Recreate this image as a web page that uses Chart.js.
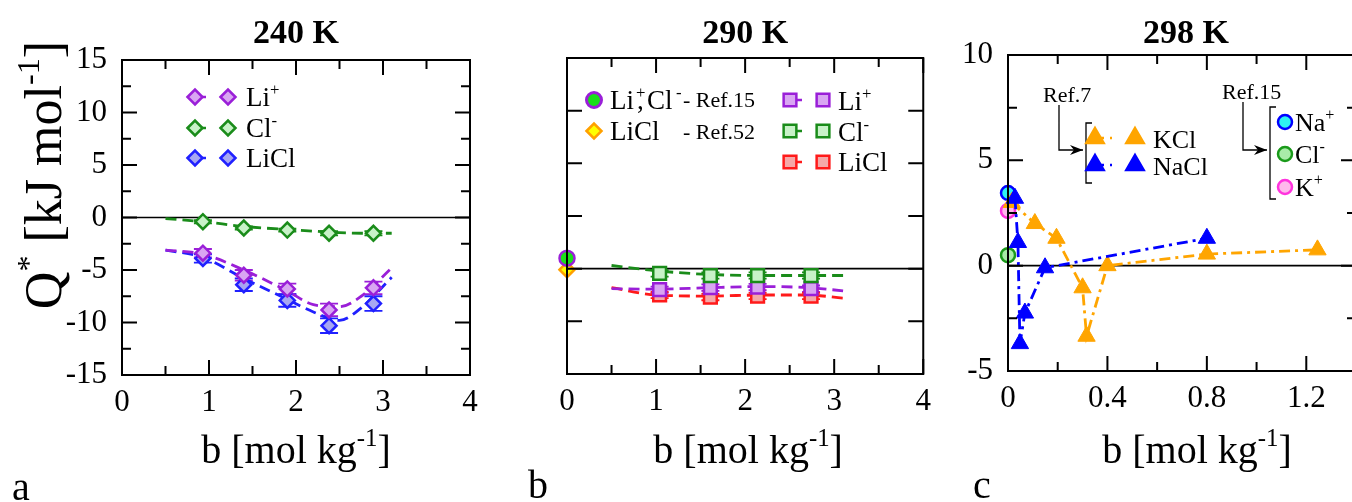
<!DOCTYPE html>
<html>
<head>
<meta charset="utf-8">
<script src="https://cdn.jsdelivr.net/npm/chart.js@4.4.1/dist/chart.umd.min.js"></script>
<style>
    body { margin: 0; background: #fff; overflow: hidden; width: 1352px; height: 502px; position: relative; }
    canvas { position: absolute; top: 0; }
    .fontwarm { position: absolute; left: -2000px; top: 0; font-family: "Liberation Serif"; font-size: 20px; }
</style>
</head>
<body>
<span class="fontwarm">Li Cl 240 K <b>298 K</b></span>
<canvas id="chartA" width="500" height="502" style="left:0"></canvas>
<canvas id="chartB" width="430" height="502" style="left:510px"></canvas>
<canvas id="chartC" width="440" height="502" style="left:940px"></canvas>
<script>
// ---- panel a : 240 K ----
const bA = [0.93, 1.40, 1.90, 2.38, 2.89];
const liA = [-3.4, -5.5, -6.8, -8.8, -6.7];
const liErrA = [0.4, 0.5, 0.5, 0.6, 0.6];
const clA = [-0.4, -1.0, -1.2, -1.5, -1.5];
const clErrA = [0.15, 0.15, 0.15, 0.2, 0.2];
const liclA = [-3.9, -6.4, -7.9, -10.3, -8.2];
const liclErrA = [0.4, 0.6, 0.6, 0.7, 0.7];
const fitXA = [0.5, 0.93, 1.4, 1.9, 2.2, 2.5, 2.75, 3.1];
const liFitA = [-3.1, -3.5, -5.0, -7.0, -8.3, -8.5, -7.5, -4.8];
const clFitA = [-0.1, -0.4, -0.85, -1.15, -1.3, -1.45, -1.5, -1.5];
const liclFitA = [-3.1, -3.8, -5.8, -7.8, -9.0, -9.8, -8.6, -5.7];

// ---- panel b : 290 K ----
const bB = [1.04, 1.61, 2.14, 2.74];
const liB = [-2.0, -1.8, -1.75, -1.9];
const clB = [-0.45, -0.65, -0.65, -0.65];
const liclB = [-2.5, -2.7, -2.6, -2.6];
const errB = [0.3, 0.3, 0.3, 0.3];
const fitXB = [0.5, 1.0, 1.6, 2.2, 2.7, 3.1];
const liFitB = [-1.9, -1.95, -1.8, -1.7, -1.8, -2.1];
const clFitB = [0.3, -0.2, -0.55, -0.65, -0.65, -0.65];
const liclFitB = [-1.8, -2.5, -2.6, -2.5, -2.5, -2.8];
const refX0 = [0];
const ref15B = [1.0];
const ref52B = [-0.1];

// ---- panel c : 298 K ----
const kclX = [0.015, 0.108, 0.195, 0.30, 0.316, 0.40, 0.80, 1.245];
const kclQ = [3.0, 2.0, 1.3, -1.05, -3.35, 0.0, 0.55, 0.75];
const naclX = [0.028, 0.04, 0.048, 0.068, 0.149, 0.80];
const naclQ = [3.2, 1.1, -3.7, -2.25, -0.1, 1.3];
const naIon = [3.45];
const clIon = [0.5];
const kIon = [2.6];

// ---- ticks ----
const xTicksAB = [0, 1, 2, 3, 4];
const xMinorAB = [0.5, 1.5, 2.5, 3.5];
const yTicksA = [-15, -10, -5, 0, 5, 10, 15];
const yMinorA = [-12.5, -7.5, -2.5, 2.5, 7.5, 12.5];
const yTicksB = [-10, -5, 0, 5, 10, 15, 20];
const xTicksC = [0, 0.4, 0.8, 1.2];
const xLabelsC = ["0", "0.4", "0.8", "1.2"];
const xMinorC = [0.2, 0.6, 1.0];
const yTicksC = [-5, 0, 5, 10];
const yMinorC = [-2.5, 2.5, 7.5];

const SERIF = '"Liberation Serif", "Times New Roman", Times, serif';

const C = {
    li: ["#9a1fd8", "#d9a6f2"],
    cl: ["#1a8c1a", "#c8f2c8"],
    liclA: ["#2020ff", "#a7a7f2"],
    liclB: ["#ff1a1a", "#f5a8a8"],
    kcl: "#ffa500",
    nacl: "#0000ff"
};

function pts(xs, ys) {
    return xs.map((x, i) => ({ x: x, y: ys[i] }));
}

function markers(label, xs, ys, style, r, colors, errors) {
    return {
        label: label,
        data: pts(xs, ys),
        showLine: false,
        pointStyle: style,
        pointRadius: r,
        pointBorderWidth: 2.5,
        borderColor: colors[0],
        backgroundColor: colors[1],
        errors: errors,
        clip: false
    };
}

function fitLine(label, xs, ys, color, dash) {
    return {
        label: label,
        data: pts(xs, ys),
        showLine: true,
        pointRadius: 0,
        borderColor: color,
        borderWidth: 2.8,
        borderDash: dash,
        cubicInterpolationMode: "monotone",
        fill: false
    };
}

// text with ^{...} superscripts
function splitSup(str) {
    const out = [];
    const re = /\^\{([^}]*)\}/g;
    let last = 0, m;
    while ((m = re.exec(str))) {
        if (m.index > last) out.push({ t: str.slice(last, m.index) });
        out.push({ t: m[1], sup: true });
        last = re.lastIndex;
    }
    if (last < str.length) out.push({ t: str.slice(last) });
    return out;
}

function rich(ctx, str, x, y, size, align, bold) {
    const parts = splitSup(str);
    const font = s => (bold ? "bold " : "") + s + "px " + SERIF;
    let w = 0;
    parts.forEach(p => {
        ctx.font = font(p.sup ? size * 0.62 : size);
        w += ctx.measureText(p.t).width;
    });
    let cx = align === "center" ? x - w / 2 : (align === "right" ? x - w : x);
    ctx.textAlign = "left";
    ctx.textBaseline = "alphabetic";
    ctx.fillStyle = "#000";
    parts.forEach(p => {
        ctx.font = font(p.sup ? size * 0.62 : size);
        ctx.fillText(p.t, cx, p.sup ? y - size * 0.42 : y);
        cx += ctx.measureText(p.t).width;
    });
}

function marker(ctx, shape, x, y, r, fill, stroke, lw) {
    ctx.beginPath();
    if (shape === "rectRot") {
        ctx.moveTo(x - r, y); ctx.lineTo(x, y - r); ctx.lineTo(x + r, y); ctx.lineTo(x, y + r); ctx.closePath();
    } else if (shape === "rect") {
        const s = Math.SQRT1_2 * r;
        ctx.rect(x - s, y - s, 2 * s, 2 * s);
    } else if (shape === "triangle") {
        for (let k = 0; k < 3; k++) {
            const a = k * 2 * Math.PI / 3;
            const px = x + Math.sin(a) * r, py = y - Math.cos(a) * r;
            if (k === 0) ctx.moveTo(px, py); else ctx.lineTo(px, py);
        }
        ctx.closePath();
    } else {
        ctx.arc(x, y, r, 0, Math.PI * 2);
    }
    ctx.fillStyle = fill;
    ctx.fill();
    ctx.lineWidth = lw;
    ctx.strokeStyle = stroke;
    ctx.stroke();
}

function legendRow(ctx, shape, r, colors, x1, x2, y, dash) {
    ctx.save();
    ctx.strokeStyle = colors[0];
    ctx.lineWidth = 2.5;
    ctx.setLineDash(dash);
    ctx.beginPath();
    ctx.moveTo(x1, y);
    ctx.lineTo(x2, y);
    ctx.stroke();
    ctx.restore();
    marker(ctx, shape, x1, y, r, colors[1], colors[0], 2.5);
    marker(ctx, shape, x2, y, r, colors[1], colors[0], 2.5);
}

// error bars and zero line under the marks
const errorBarPlugin = {
    id: "errorBars",
    beforeDatasetsDraw(chart) {
        const ctx = chart.ctx;
        const ys = chart.scales.y;
        const area = chart.chartArea;
        ctx.save();
        ctx.strokeStyle = "#000";
        ctx.lineWidth = 1.6;
        ctx.beginPath();
        ctx.moveTo(area.left, ys.getPixelForValue(0));
        ctx.lineTo(area.right, ys.getPixelForValue(0));
        ctx.stroke();
        chart.data.datasets.forEach((ds, i) => {
            if (!ds.errors) return;
            const meta = chart.getDatasetMeta(i);
            ctx.strokeStyle = ds.borderColor;
            ctx.lineWidth = 1.8;
            meta.data.forEach((pt, j) => {
                const v = ds.data[j].y, e = ds.errors[j];
                const y1 = ys.getPixelForValue(v + e), y2 = ys.getPixelForValue(v - e);
                ctx.beginPath();
                ctx.moveTo(pt.x, y1); ctx.lineTo(pt.x, y2);
                ctx.moveTo(pt.x - 9, y1); ctx.lineTo(pt.x + 9, y1);
                ctx.moveTo(pt.x - 9, y2); ctx.lineTo(pt.x + 9, y2);
                ctx.stroke();
            });
        });
        ctx.restore();
    }
};

// box with inward ticks on all four sides
function framePlugin(xMajor, xMinor, yMajor, yMinor) {
    return {
        id: "frame",
        afterDraw(chart) {
            const ctx = chart.ctx;
            const a = chart.chartArea;
            const xs = chart.scales.x, ys = chart.scales.y;
            ctx.save();
            ctx.strokeStyle = "#000";
            ctx.lineWidth = 2;
            ctx.beginPath();
            const tick = (vals, len, isX) => {
                vals.forEach(v => {
                    if (isX) {
                        const p = xs.getPixelForValue(v);
                        ctx.moveTo(p, a.bottom); ctx.lineTo(p, a.bottom - len);
                        ctx.moveTo(p, a.top); ctx.lineTo(p, a.top + len);
                    } else {
                        const p = ys.getPixelForValue(v);
                        ctx.moveTo(a.left, p); ctx.lineTo(a.left + len, p);
                        ctx.moveTo(a.right, p); ctx.lineTo(a.right - len, p);
                    }
                });
            };
            tick(xMajor, 15, true);
            tick(xMinor, 9, true);
            tick(yMajor, 15, false);
            tick(yMinor, 9, false);
            ctx.stroke();
            ctx.strokeRect(a.left, a.top, a.right - a.left, a.bottom - a.top);
            ctx.restore();
        }
    };
}

function decoPlugin(draw) {
    return {
        id: "deco",
        afterDraw(chart) {
            const ctx = chart.ctx;
            ctx.save();
            draw(ctx, chart);
            ctx.restore();
        }
    };
}

function axes(xMin, xMax, xTicks, xLabels, yMin, yMax, yTicks, yWidth, xHeight, showY) {
    const tickFont = { family: SERIF, size: 31 };
    return {
        x: {
            type: "linear", min: xMin, max: xMax,
            grid: { display: false, drawTicks: false }, border: { display: false },
            ticks: {
                font: tickFont, color: "#000", padding: 9, maxRotation: 0, autoSkip: false,
                callback: (v, i) => xLabels[i]
            },
            afterBuildTicks: s => { s.ticks = xTicks.map(v => ({ value: v })); },
            afterFit: s => { s.height = xHeight; }
        },
        y: {
            type: "linear", min: yMin, max: yMax,
            grid: { display: false, drawTicks: false }, border: { display: false },
            ticks: {
                display: showY, font: tickFont, color: "#000", padding: 15, autoSkip: false,
                callback: v => String(v)
            },
            afterBuildTicks: s => { s.ticks = yTicks.map(v => ({ value: v })); },
            afterFit: s => { s.width = yWidth; }
        }
    };
}

const baseOptions = {
    responsive: false,
    animation: false,
    events: [],
    plugins: { legend: { display: false }, tooltip: { enabled: false } }
};

function drawAll() {
    // ---------- 240 K ----------
    new Chart(document.getElementById("chartA"), {
        type: "scatter",
        data: {
            datasets: [
                markers("Li+", bA, liA, "rectRot", 7.5, C.li, liErrA),
                markers("Cl-", bA, clA, "rectRot", 7.5, C.cl, clErrA),
                markers("LiCl", bA, liclA, "rectRot", 7.5, C.liclA, liclErrA),
                fitLine("Li+ fit", fitXA, liFitA, C.li[0], [11, 6]),
                fitLine("Cl- fit", fitXA, clFitA, C.cl[0], [11, 6]),
                fitLine("LiCl fit", fitXA, liclFitA, C.liclA[0], [11, 6])
            ]
        },
        options: Object.assign({}, baseOptions, {
            layout: { padding: { left: 0, right: 30, top: 60, bottom: 0 } },
            scales: axes(0, 4, xTicksAB, xTicksAB.map(String), -15, 15, yTicksA, 122, 127, true)
        }),
        plugins: [
            errorBarPlugin,
            framePlugin(xTicksAB, xMinorAB, yTicksA, yMinorA),
            decoPlugin((ctx, chart) => {
                const a = chart.chartArea;
                const cx = (a.left + a.right) / 2;
                rich(ctx, "240 K", cx, 43, 34, "center", true);
                rich(ctx, "b [mol kg^{-1}]", cx, 463, 40, "center");
                rich(ctx, "a", 12, 500, 40, "left");
                ctx.save();
                ctx.translate(61, 175);
                ctx.rotate(-Math.PI / 2);
                rich(ctx, "Q^{*} [kJ mol^{-1}]", 0, 0, 52, "center");
                ctx.restore();
                legendRow(ctx, "rectRot", 7.5, C.li, 195, 228, 97, [11, 30]);
                legendRow(ctx, "rectRot", 7.5, C.cl, 195, 228, 128, [11, 30]);
                legendRow(ctx, "rectRot", 7.5, C.liclA, 195, 228, 158, [11, 30]);
                rich(ctx, "Li^{+}", 246, 106, 27, "left");
                rich(ctx, "Cl^{-}", 246, 137, 27, "left");
                rich(ctx, "LiCl", 246, 167, 27, "left");
            })
        ]
    });

    // ---------- 290 K ----------
    new Chart(document.getElementById("chartB"), {
        type: "scatter",
        data: {
            datasets: [
                markers("Li, Cl Ref.15", refX0, ref15B, "circle", 7.5, [C.li[0], "#19e019"]),
                markers("LiCl Ref.52", refX0, ref52B, "rectRot", 7.5, ["#ffa000", "#ffff00"]),
                markers("Cl-", bB, clB, "rect", 9, C.cl, errB),
                markers("Li+", bB, liB, "rect", 9, C.li, errB),
                markers("LiCl", bB, liclB, "rect", 9, C.liclB, errB),
                fitLine("Cl- fit", fitXB, clFitB, C.cl[0], [11, 6]),
                fitLine("Li+ fit", fitXB, liFitB, C.li[0], [11, 6]),
                fitLine("LiCl fit", fitXB, liclFitB, C.liclB[0], [11, 6])
            ]
        },
        options: Object.assign({}, baseOptions, {
            layout: { padding: { left: 0, right: 15, top: 58, bottom: 0 } },
            scales: axes(0, 4, xTicksAB, xTicksAB.map(String), -10, 20, yTicksB, 57, 128, false)
        }),
        plugins: [
            errorBarPlugin,
            framePlugin(xTicksAB, xMinorAB, yTicksB, []),
            decoPlugin((ctx, chart) => {
                const a = chart.chartArea;
                const cx = (a.left + a.right) / 2;
                rich(ctx, "290 K", cx, 43, 34, "center", true);
                rich(ctx, "b [mol kg^{-1}]", cx + 3, 463, 40, "center");
                rich(ctx, "b", 18, 498, 40, "left");
                marker(ctx, "circle", 84, 100, 7.5, "#19e019", C.li[0], 3);
                marker(ctx, "rectRot", 84, 131, 7.5, "#ffff00", "#ffa000", 2.5);
                // "Li+, Cl-" with the comma tucked under the superscript
                rich(ctx, "Li", 100, 109, 27, "left");
                rich(ctx, "^{+}", 126, 109, 27, "left");
                rich(ctx, ",", 127, 109, 27, "left");
                rich(ctx, "Cl", 137, 109, 27, "left");
                rich(ctx, "^{-}", 166, 109, 27, "left");
                rich(ctx, "- Ref.15", 173, 107, 22, "left");
                rich(ctx, "LiCl", 100, 140, 27, "left");
                rich(ctx, "- Ref.52", 173, 139, 22, "left");
                legendRow(ctx, "rect", 9, C.li, 280, 313, 100, [12, 30]);
                legendRow(ctx, "rect", 9, C.cl, 280, 313, 131, [12, 30]);
                legendRow(ctx, "rect", 9, C.liclB, 280, 313, 162, [12, 30]);
                rich(ctx, "Li^{+}", 328, 110, 27, "left");
                rich(ctx, "Cl^{-}", 328, 141, 27, "left");
                rich(ctx, "LiCl", 328, 171, 27, "left");
            })
        ]
    });

    // ---------- 298 K ----------
    function arrowBracket(ctx, tx, ty, vx, arrowX, yArrow, bx, bTop, bBot, label) {
        rich(ctx, label, tx, ty, 22, "left");
        ctx.strokeStyle = "#000";
        ctx.lineWidth = 1.3;
        ctx.beginPath();
        ctx.moveTo(vx, ty + 3);
        ctx.lineTo(vx, yArrow);
        ctx.lineTo(arrowX, yArrow);
        ctx.moveTo(bx + 6, bTop);
        ctx.lineTo(bx, bTop);
        ctx.lineTo(bx, bBot);
        ctx.lineTo(bx + 6, bBot);
        ctx.stroke();
        ctx.fillStyle = "#000";
        ctx.beginPath();
        ctx.moveTo(arrowX, yArrow);
        ctx.lineTo(arrowX - 13, yArrow - 5);
        ctx.lineTo(arrowX - 9, yArrow);
        ctx.lineTo(arrowX - 13, yArrow + 5);
        ctx.closePath();
        ctx.fill();
    }

    new Chart(document.getElementById("chartC"), {
        type: "scatter",
        data: {
            datasets: [
                {
                    label: "NaCl", data: pts(naclX, naclQ), showLine: true,
                    pointStyle: "triangle", pointRadius: 10, pointBorderWidth: 1,
                    borderColor: C.nacl, backgroundColor: C.nacl,
                    borderWidth: 2.8, borderDash: [11, 5, 3, 5], clip: false
                },
                {
                    label: "KCl", data: pts(kclX, kclQ), showLine: true,
                    pointStyle: "triangle", pointRadius: 10, pointBorderWidth: 1,
                    borderColor: C.kcl, backgroundColor: C.kcl,
                    borderWidth: 2.8, borderDash: [11, 5, 3, 5], clip: false
                },
                markers("Na+", refX0, naIon, "circle", 7, ["#0000ff", "#2ef2f2"]),
                markers("K+", refX0, kIon, "circle", 7, ["#ff33dd", "#ffb8ec"]),
                markers("Cl-", refX0, clIon, "circle", 7, ["#1a9a1a", "#a8eca8"])
            ]
        },
        options: Object.assign({}, baseOptions, {
            layout: { padding: { left: 0, right: 24, top: 55, bottom: 0 } },
            scales: axes(0, 1.4, xTicksC, xLabelsC, -5, 10, yTicksC, 68, 131, true)
        }),
        plugins: [
            errorBarPlugin,
            framePlugin(xTicksC, xMinorC, yTicksC, yMinorC),
            decoPlugin((ctx, chart) => {
                const a = chart.chartArea;
                const cx = (a.left + a.right) / 2;
                rich(ctx, "298 K", cx + 4, 43, 34, "center", true);
                rich(ctx, "b [mol kg^{-1}]", cx + 15, 463, 40, "center");
                rich(ctx, "c", 33, 498, 40, "left");
                arrowBracket(ctx, 103, 102, 119, 143, 150, 146, 123, 183, "Ref.7");
                legendRow(ctx, "triangle", 10, [C.kcl, C.kcl], 155, 195, 138, [9, 6, 2, 40]);
                legendRow(ctx, "triangle", 10, [C.nacl, C.nacl], 155, 195, 165, [9, 6, 2, 40]);
                rich(ctx, "KCl", 213, 148, 26, "left");
                rich(ctx, "NaCl", 213, 175, 26, "left");
                arrowBracket(ctx, 282, 99, 303, 327, 150, 330, 107, 199, "Ref.15");
                marker(ctx, "circle", 345, 122, 7, "#2ef2f2", "#0000ff", 2.5);
                marker(ctx, "circle", 345, 154, 7, "#a8eca8", "#1a9a1a", 2.5);
                marker(ctx, "circle", 345, 187, 7, "#ffb8ec", "#ff33dd", 2.5);
                rich(ctx, "Na^{+}", 355, 131, 26, "left");
                rich(ctx, "Cl^{-}", 355, 163, 26, "left");
                rich(ctx, "K^{+}", 355, 196, 26, "left");
            })
        ]
    });
}

Promise.all([
    document.fonts.load('31px "Liberation Serif"'),
    document.fonts.load('bold 31px "Liberation Serif"')
]).then(drawAll, drawAll);
</script>
</body>
</html>
